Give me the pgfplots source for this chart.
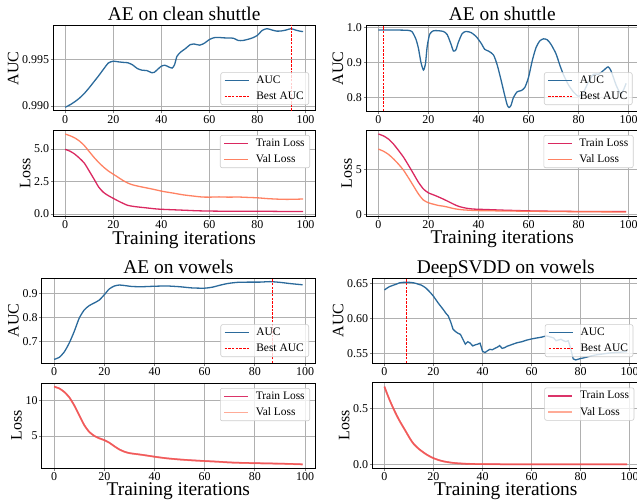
\documentclass[border=0pt]{standalone}
\usepackage{fontspec}
\setmainfont{Liberation Serif}
\usepackage{pgfplots}
\pgfplotsset{compat=1.18}

\definecolor{aucblue}{HTML}{2B6A9B}
\definecolor{trainc}{HTML}{D6114F}
\definecolor{valc}{HTML}{FF7452}
\definecolor{gridc}{HTML}{B0B0B0}
\definecolor{legedge}{HTML}{CCCCCC}

\pgfplotsset{
  panel/.style={
    scale only axis, xmin=-4.95, xmax=103.95, xtick={0,20,40,60,80,100},
    grid=major, grid style={draw=gridc, line width=0.8bp},
    axis line style={line width=1bp, draw=black},
    tick align=outside, tick pos=left, major tick length=2.5bp,
    major tick style={draw=gray, line width=0.8bp},
    ticklabel style={font=\fontsize{12}{12}\selectfont, inner sep=1.5bp},
    /pgf/number format/assume math mode=true,
    scaled ticks=false,
    ylabel style={font=\fontsize{16}{16}\selectfont, inner sep=2bp},
    every axis title shift=0pt,
    title style={font=\fontsize{19.5}{20}\selectfont, at={(0.5,1)}, anchor=base, yshift=4.5bp},
    xlabel style={font=\fontsize{19.5}{20}\selectfont, at={(axis description cs:0.5,0)}, anchor=base, yshift=-27.5bp},
    legend cell align=left,
    legend style={font=\fontsize{11.5}{11.5}\selectfont, fill=white, fill opacity=0.8, text opacity=1,
      draw=legedge, rounded corners=2bp, line width=0.6bp, inner xsep=3bp, inner ysep=1.5bp, row sep=3bp,
      /tikz/every odd column/.append style={column sep=5bp}},
    legend image code/.code={\draw[##1, line width=1.5bp] (0bp,0bp) -- (24bp,0bp);},
  },
  aucpanel/.style={panel, ylabel={AUC},
    legend style={at={(1,0)}, anchor=south east, xshift=-6bp, yshift=6bp}},
  losspanel/.style={panel, ylabel={Loss}, xlabel={Training iterations},
    legend style={at={(1,1)}, anchor=north east, xshift=-5bp, yshift=-5bp}},
  solidlegend/.style={legend style={fill opacity=1}},
  aucline/.style={draw=aucblue, line width=1.3bp},
  bestline/.style={draw=red, line width=1bp, dash pattern=on 2.5bp off 1.2bp},
}

\begin{document}
\begin{tikzpicture}
\useasboundingbox (0,0) rectangle (637bp,-504bp);
\clip (0,0) rectangle (637bp,-504bp);

% ---------- AE on clean shuttle ----------
\begin{axis}[aucpanel, at={(53.3bp,-25.5bp)}, anchor=north west, width=261.7bp, height=85.5bp,
  title={AE on clean shuttle}, ymin=0.98946, ymax=0.9986, ytick={0.990,0.995},
  yticklabel style={/pgf/number format/.cd, fixed, fixed zerofill, precision=3}]
\addplot[aucline, smooth, tension=0.4] coordinates {
(0,0.98986) (2,0.99012) (4,0.99045) (6,0.99085) (8,0.99135) (10,0.99195) (12,0.99260)
(14,0.99325) (16,0.99395) (18,0.99460) (20,0.99478) (22,0.99472) (24,0.99466) (26,0.99462)
(28,0.99440) (30,0.99400) (32,0.99382) (34,0.99378) (36,0.99355) (37,0.99358) (38,0.99380)
(40,0.99425) (41.5,0.99435) (43,0.99418) (44.5,0.99405) (45.5,0.99440) (46.5,0.99530)
(48,0.99575) (50,0.99612) (52,0.99655) (53.5,0.99663) (56,0.99650) (58,0.99672) (60,0.99710)
(62,0.99730) (64,0.99732) (66,0.99728) (68,0.99726) (70,0.99724) (72,0.99700) (74,0.99700)
(76,0.99712) (78,0.99728) (80,0.99755) (82,0.99808) (84,0.99826) (86,0.99812) (88,0.99800)
(90,0.99802) (92,0.99812) (94,0.99826) (96,0.99810) (98,0.99798) (99,0.99795)};
\addlegendentry{AUC}
\addplot[bestline] coordinates {(94,0.98946) (94,0.9986)};
\addlegendentry{Best AUC}
\end{axis}

\begin{axis}[losspanel, solidlegend, at={(53.3bp,-130bp)}, anchor=north west, width=261.7bp, height=86.5bp,
  ymin=-0.2, ymax=6.46, ytick={0,2.5,5},
  yticklabel style={/pgf/number format/.cd, fixed, fixed zerofill, precision=1}]
\addplot[color=trainc, draw opacity=0.9, line width=1.3bp, smooth, tension=0.4] coordinates {
(0,4.97) (2,4.83) (4,4.60) (6,4.28) (8,3.90) (10,3.30) (12,2.68) (14,2.05) (16,1.65) (18,1.40)
(20,1.20) (22,1.00) (24,0.82) (26,0.66) (28,0.59) (30,0.54) (32,0.50) (35,0.44) (38,0.38)
(42,0.34) (46,0.31) (50,0.28) (55,0.24) (60,0.22) (65,0.21) (70,0.21) (75,0.20) (80,0.21)
(85,0.20) (90,0.19) (95,0.19) (99,0.18)};
\addlegendentry{Train Loss}
\addplot[color=valc, draw opacity=0.9, line width=1.3bp, smooth, tension=0.4] coordinates {
(0,6.15) (2,6.02) (4,5.85) (6,5.60) (8,5.25) (10,4.80) (12,4.35) (14,3.95) (16,3.60) (18,3.30)
(20,3.06) (22,2.82) (24,2.58) (26,2.38) (28,2.24) (30,2.15) (32,2.07) (35,1.96) (38,1.84)
(41,1.72) (45,1.60) (49,1.47) (53,1.38) (57,1.30) (60,1.29) (64,1.31) (68,1.29) (72,1.30)
(76,1.27) (80,1.24) (84,1.18) (88,1.14) (92,1.12) (96,1.13) (99,1.15)};
\addlegendentry{Val Loss}
\end{axis}

% ---------- AE on shuttle ----------
\begin{axis}[aucpanel, at={(366bp,-25.5bp)}, anchor=north west, width=272.5bp, height=85.5bp,
  title={AE on shuttle}, ymin=0.761, ymax=1.005, ytick={0.8,0.9,1.0},
  yticklabel style={/pgf/number format/.cd, fixed, fixed zerofill, precision=1}]
\addplot[aucline, smooth, tension=0.4] coordinates {
(0,0.992) (4,0.992) (8,0.992) (12,0.991) (13.5,0.987) (15,0.966) (16,0.940) (17,0.900)
(18,0.878) (18.8,0.895) (19.5,0.945) (20.5,0.980) (22,0.990) (24,0.990) (26,0.988)
(27.5,0.979) (29,0.952) (30,0.932) (31,0.936) (32,0.958) (33.5,0.982) (35,0.988) (37,0.985)
(39,0.974) (41,0.955) (42.5,0.937) (44,0.932) (46,0.921) (47.5,0.892) (49,0.850) (50.5,0.805)
(51.5,0.778) (52.2,0.771) (53,0.777) (54,0.800) (55.5,0.816) (57,0.819) (58.5,0.828)
(60,0.857) (61.5,0.905) (63,0.942) (64.5,0.961) (66,0.967) (67.5,0.964) (69,0.951) (71,0.924)
(72.5,0.892) (74,0.864) (76,0.835) (78,0.815) (80,0.803) (82,0.815) (84,0.845) (86,0.866)
(88,0.866) (90,0.877) (91.8,0.887) (93,0.875) (95,0.835) (96.8,0.810) (98,0.822) (99,0.840)};
\addlegendentry{AUC}
\addplot[bestline] coordinates {(2,0.761) (2,1.005)};
\addlegendentry{Best AUC}
\end{axis}

\begin{axis}[losspanel, solidlegend, at={(366bp,-130bp)}, anchor=north west, width=272.5bp, height=86bp,
  ymin=-0.15, ymax=9.4, ytick={0,5}]
\addplot[color=trainc, draw opacity=0.9, line width=1.3bp, smooth, tension=0.4] coordinates {
(0,8.96) (2,8.75) (4,8.40) (6,7.85) (8,7.15) (10,6.40) (12,5.50) (14,4.55) (16,3.60) (18,2.85)
(20,2.42) (22,2.20) (24,1.97) (26,1.72) (28,1.45) (30,1.17) (32,0.93) (34,0.78) (36,0.68)
(38,0.62) (40,0.60) (45,0.55) (50,0.50) (55,0.46) (60,0.42) (65,0.40) (70,0.38) (75,0.37)
(80,0.35) (85,0.35) (90,0.34) (95,0.34) (99,0.34)};
\addlegendentry{Train Loss}
\addplot[color=valc, draw opacity=0.9, line width=1.3bp, smooth, tension=0.4] coordinates {
(0,7.28) (2,7.05) (4,6.70) (6,6.20) (8,5.62) (10,4.95) (12,4.10) (14,3.20) (16,2.30) (18,1.62)
(20,1.32) (22,1.16) (24,1.02) (26,0.94) (28,0.82) (30,0.68) (32,0.59) (34,0.53) (37,0.48)
(40,0.45) (45,0.43) (50,0.41) (60,0.38) (70,0.35) (80,0.33) (90,0.31) (99,0.30)};
\addlegendentry{Val Loss}
\end{axis}

% ---------- AE on vowels ----------
\begin{axis}[aucpanel, at={(41.7bp,-278bp)}, anchor=north west, width=273.3bp, height=85bp,
  title={AE on vowels}, ymin=0.612, ymax=0.963, ytick={0.7,0.8,0.9},
  yticklabel style={/pgf/number format/.cd, fixed, fixed zerofill, precision=1}]
\addplot[aucline, smooth, tension=0.4] coordinates {
(0,0.627) (2,0.635) (4,0.657) (6,0.694) (8,0.742) (10,0.797) (12,0.831) (14,0.849) (16,0.860)
(18,0.872) (20,0.894) (22,0.918) (24,0.930) (26,0.934) (28,0.932) (31,0.928) (35,0.927)
(40,0.929) (45,0.930) (50,0.927) (55,0.922) (60,0.921) (63,0.925) (66,0.933) (69,0.940)
(73,0.945) (78,0.946) (82,0.946) (86,0.948) (90,0.945) (94,0.940) (99,0.935)};
\addlegendentry{AUC}
\addplot[bestline] coordinates {(87,0.612) (87,0.963)};
\addlegendentry{Best AUC}
\end{axis}

\begin{axis}[losspanel, at={(41.7bp,-383bp)}, anchor=north west, width=273.3bp, height=85bp,
  ymin=0.47, ymax=12.5, ytick={5,10}]
\addplot[color=trainc, draw opacity=0.85, line width=1.5bp, smooth, tension=0.4] coordinates {
(0,11.98) (2,11.75) (4,11.25) (6,10.50) (8,9.35) (10,7.95) (12,6.55) (14,5.58) (16,5.02)
(18,4.68) (20,4.42) (22,4.05) (24,3.55) (26,3.10) (28,2.78) (30,2.58) (32,2.48) (35,2.34)
(38,2.18) (41,2.02) (45,1.84) (50,1.68) (55,1.56) (60,1.46) (65,1.37) (70,1.26) (75,1.20)
(80,1.16) (85,1.12) (90,1.09) (95,1.04) (99,0.99)};
\addlegendentry{Train Loss}
\addplot[color=valc, draw opacity=0.6, line width=1.8bp, smooth, tension=0.4] coordinates {
(0,11.96) (2,11.73) (4,11.24) (6,10.48) (8,9.33) (10,7.94) (12,6.54) (14,5.57) (16,5.01)
(18,4.66) (20,4.40) (22,4.04) (24,3.54) (26,3.09) (28,2.77) (30,2.57) (32,2.47) (35,2.33)
(38,2.17) (41,2.01) (45,1.83) (50,1.67) (55,1.55) (60,1.45) (65,1.36) (70,1.25) (75,1.19)
(80,1.15) (85,1.11) (90,1.08) (95,1.03) (99,0.98)};
\addlegendentry{Val Loss}
\end{axis}

% ---------- DeepSVDD on vowels ----------
\begin{axis}[aucpanel, at={(372.3bp,-278bp)}, anchor=north west, width=267bp, height=85bp,
  title={DeepSVDD on vowels}, ymin=0.5361, ymax=0.6576, ytick={0.55,0.60,0.65},
  yticklabel style={/pgf/number format/.cd, fixed, fixed zerofill, precision=2}]
\addplot[aucline] coordinates {
(0,0.6405) (1,0.6430) (2,0.6452) (3,0.6465) (4,0.6478) (5,0.6490) (6,0.6505) (7,0.6512)
(8,0.6514) (9,0.6515) (10,0.6514) (11,0.6512) (12,0.6506) (13,0.6497) (14,0.6485) (15,0.6475)
(16,0.6455) (17,0.6430) (18,0.6395) (19,0.6357) (20,0.6315) (21,0.6265) (22,0.6215)
(23,0.6170) (24,0.6125) (25,0.6075) (26,0.6035) (27,0.5950) (28,0.5843) (29,0.5810)
(30,0.5786) (31,0.5770) (32,0.5700) (33,0.5630) (34,0.5665) (35,0.5645) (36,0.5605)
(37,0.5620) (38,0.5630) (39,0.5645) (40,0.5530) (41,0.5510) (42,0.5535) (43,0.5557)
(44,0.5550) (45,0.5570) (46,0.5586) (47,0.5610) (48,0.5570) (49,0.5580) (50,0.5600)
(52,0.5625) (54,0.5650) (56,0.5665) (58,0.5688) (60,0.5705) (62,0.5718) (64,0.5730)
(66,0.5748) (67,0.5740) (68,0.5730) (69,0.5720) (70,0.5680) (71,0.5690) (72,0.5700)
(73,0.5680) (74,0.5667) (75,0.5680) (76,0.5560) (77,0.5420) (78,0.5405) (80,0.5425)
(82,0.5440) (84,0.5460) (86,0.5475) (88,0.5485) (90,0.5495) (92,0.5505) (94,0.5510)
(96,0.5515) (98,0.5522) (99,0.5524)};
\addlegendentry{AUC}
\addplot[bestline] coordinates {(9,0.5361) (9,0.6576)};
\addlegendentry{Best AUC}
\end{axis}

\begin{axis}[losspanel, at={(372.3bp,-382.5bp)}, anchor=north west, width=267bp, height=85.5bp,
  ymin=-0.033, ymax=0.73, ytick={0,0.5},
  yticklabel style={/pgf/number format/.cd, fixed, fixed zerofill, precision=1}]
\addplot[color=trainc, draw opacity=0.85, line width=1.5bp, smooth, tension=0.4] coordinates {
(0,0.693) (1,0.635) (2,0.580) (3,0.530) (4,0.482) (5,0.437) (6,0.395) (7,0.357) (8,0.320)
(9,0.283) (10,0.245) (11,0.210) (12,0.180) (13,0.158) (14,0.138) (15,0.121) (16,0.105)
(17,0.090) (18,0.077) (19,0.065) (20,0.055) (22,0.039) (24,0.027) (26,0.019) (28,0.013)
(30,0.009) (33,0.005) (36,0.003) (40,0.002) (45,0.001) (50,0.000) (60,0.000) (70,0.000)
(80,0.000) (90,0.000) (99,0.000)};
\addlegendentry{Train Loss}
\addplot[color=valc, draw opacity=0.6, line width=1.8bp, smooth, tension=0.4] coordinates {
(0,0.692) (1,0.634) (2,0.579) (3,0.529) (4,0.481) (5,0.436) (6,0.394) (7,0.356) (8,0.319)
(9,0.282) (10,0.244) (11,0.209) (12,0.179) (13,0.157) (14,0.137) (15,0.120) (16,0.104)
(17,0.089) (18,0.076) (19,0.064) (20,0.054) (22,0.038) (24,0.026) (26,0.018) (28,0.012)
(30,0.008) (33,0.005) (36,0.003) (40,0.002) (45,0.001) (50,0.000) (60,0.000) (70,0.000)
(80,0.000) (90,0.000) (99,0.000)};
\addlegendentry{Val Loss}
\end{axis}

\end{tikzpicture}
\end{document}
